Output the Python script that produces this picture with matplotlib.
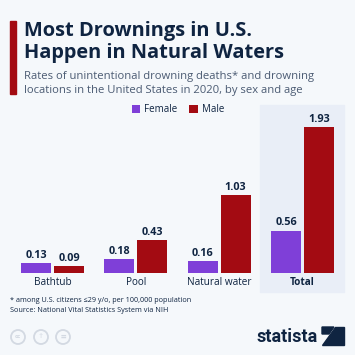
import numpy as np
import matplotlib
matplotlib.use('Agg')
import matplotlib.pyplot as plt
from matplotlib.patches import Rectangle, Circle, Polygon

# Data
categories = ['Bathtub', 'Pool', 'Natural water', 'Total']
female = [0.13, 0.18, 0.16, 0.56]
male = [0.09, 0.43, 1.03, 1.93]
series_names = ['Female', 'Male']

bg = '#f5f8fb'
purple = '#7f3fd8'
red = '#a30b12'
navy = '#0f2441'

plt.rcParams['font.family'] = ['Open Sans', 'DejaVu Sans']

fig = plt.figure(figsize=(3.55, 3.55), dpi=100, facecolor=bg)

def fx(px):
    return px / 355

def fy(py):
    return 1 - py / 355

# highlighted panel for total
fig.patches.append(Rectangle((fx(260), fy(292)), fx(344) - fx(260), fy(105) - fy(292),
                             transform=fig.transFigure, color='#e9eef7', zorder=-1))

# title block
fig.patches.append(Rectangle((fx(10), fy(94)), fx(6), fy(21) - fy(94),
                             transform=fig.transFigure, color=red, zorder=1))
fig.text(fx(24), fy(31), 'Most Drownings in U.S.', fontsize=14.4, fontweight='bold',
         color=navy, va='center', ha='left')
fig.text(fx(24), fy(53), 'Happen in Natural Waters', fontsize=14.4, fontweight='bold',
         color=navy, va='center', ha='left')
fig.text(fx(24), fy(77), 'Rates of unintentional drowning deaths* and drowning',
         fontsize=8.1, color='#4b5b73', va='center', ha='left')
fig.text(fx(24), fy(90), 'locations in the United States in 2020, by sex and age',
         fontsize=8.1, color='#4b5b73', va='center', ha='left')

# axes
ax = fig.add_axes([fx(10), fy(273), fx(345) - fx(10), fy(105) - fy(273)])
ax.set_zorder(2)
ax.set_facecolor('none')
x = np.arange(len(categories))
w = 0.36
off = 0.198
bars_f = ax.bar(x - off, female, w, color=purple, label=series_names[0], zorder=3)
bars_m = ax.bar(x + off, male, w, color=red, label=series_names[1], zorder=3)
for bars in (bars_f, bars_m):
    for b in bars:
        ax.text(b.get_x() + b.get_width() / 2, b.get_height() + 0.03, '%.2f' % b.get_height(),
                ha='center', va='bottom', fontsize=7.8, fontweight='bold', color=navy)
ax.set_xlim(-0.51, 3.51)
ax.set_ylim(0, 2.22)
ax.set_xticks(x)
ax.set_xticklabels(categories, fontsize=7.2, color=navy)
ax.get_xticklabels()[-1].set_fontweight('bold')
ax.tick_params(axis='x', length=0, pad=3)
ax.set_yticks([])
for s in ax.spines.values():
    s.set_visible(False)

leg = fig.legend(handles=[bars_f, bars_m], labels=series_names, loc='center',
                 bbox_to_anchor=(fx(178), fy(110)), ncol=2, frameon=False, fontsize=7,
                 handlelength=0.9, handleheight=0.9, handletextpad=0.4, columnspacing=1.2)
for t in leg.get_texts():
    t.set_color(navy)

# footnotes
fig.text(fx(10), fy(300), '* among U.S. citizens \u226429 y/o, per 100,000 population',
         fontsize=5.2, color=navy, va='center', ha='left')
fig.text(fx(10), fy(311), 'Source: National Vital Statistics System via NIH',
         fontsize=5.2, color=navy, va='center', ha='left')

# cc icons
for cx in (18, 41, 63):
    fig.patches.append(Circle((fx(cx), fy(337)), fx(7), transform=fig.transFigure,
                              fill=False, edgecolor='#d3d9e2', linewidth=1.3))
fig.text(fx(18), fy(337), 'cc', fontsize=4.5, fontweight='bold', color='#d3d9e2', ha='center', va='center')
fig.text(fx(63), fy(337), '=', fontsize=7, fontweight='bold', color='#d3d9e2', ha='center', va='center')
fig.text(fx(41), fy(337), '\u2020', fontsize=6, color='#d3d9e2', ha='center', va='center')

# statista logo
fig.text(fx(318), fy(337), 'statista', fontsize=13, fontweight='bold', color=navy,
         ha='right', va='center', family=['Roboto', 'DejaVu Sans'])
fig.patches.append(Polygon([(fx(322), fy(345)), (fx(344), fy(345)), (fx(344), fy(327)),
                            (fx(335), fy(327))], closed=True, transform=fig.transFigure,
                           color=navy))
fig.patches.append(Polygon([(fx(322), fy(327)), (fx(334), fy(327)), (fx(329), fy(334)),
                            (fx(322), fy(334))], closed=True, transform=fig.transFigure,
                           color=navy))

fig.savefig('out.png', dpi=100, facecolor=bg)
